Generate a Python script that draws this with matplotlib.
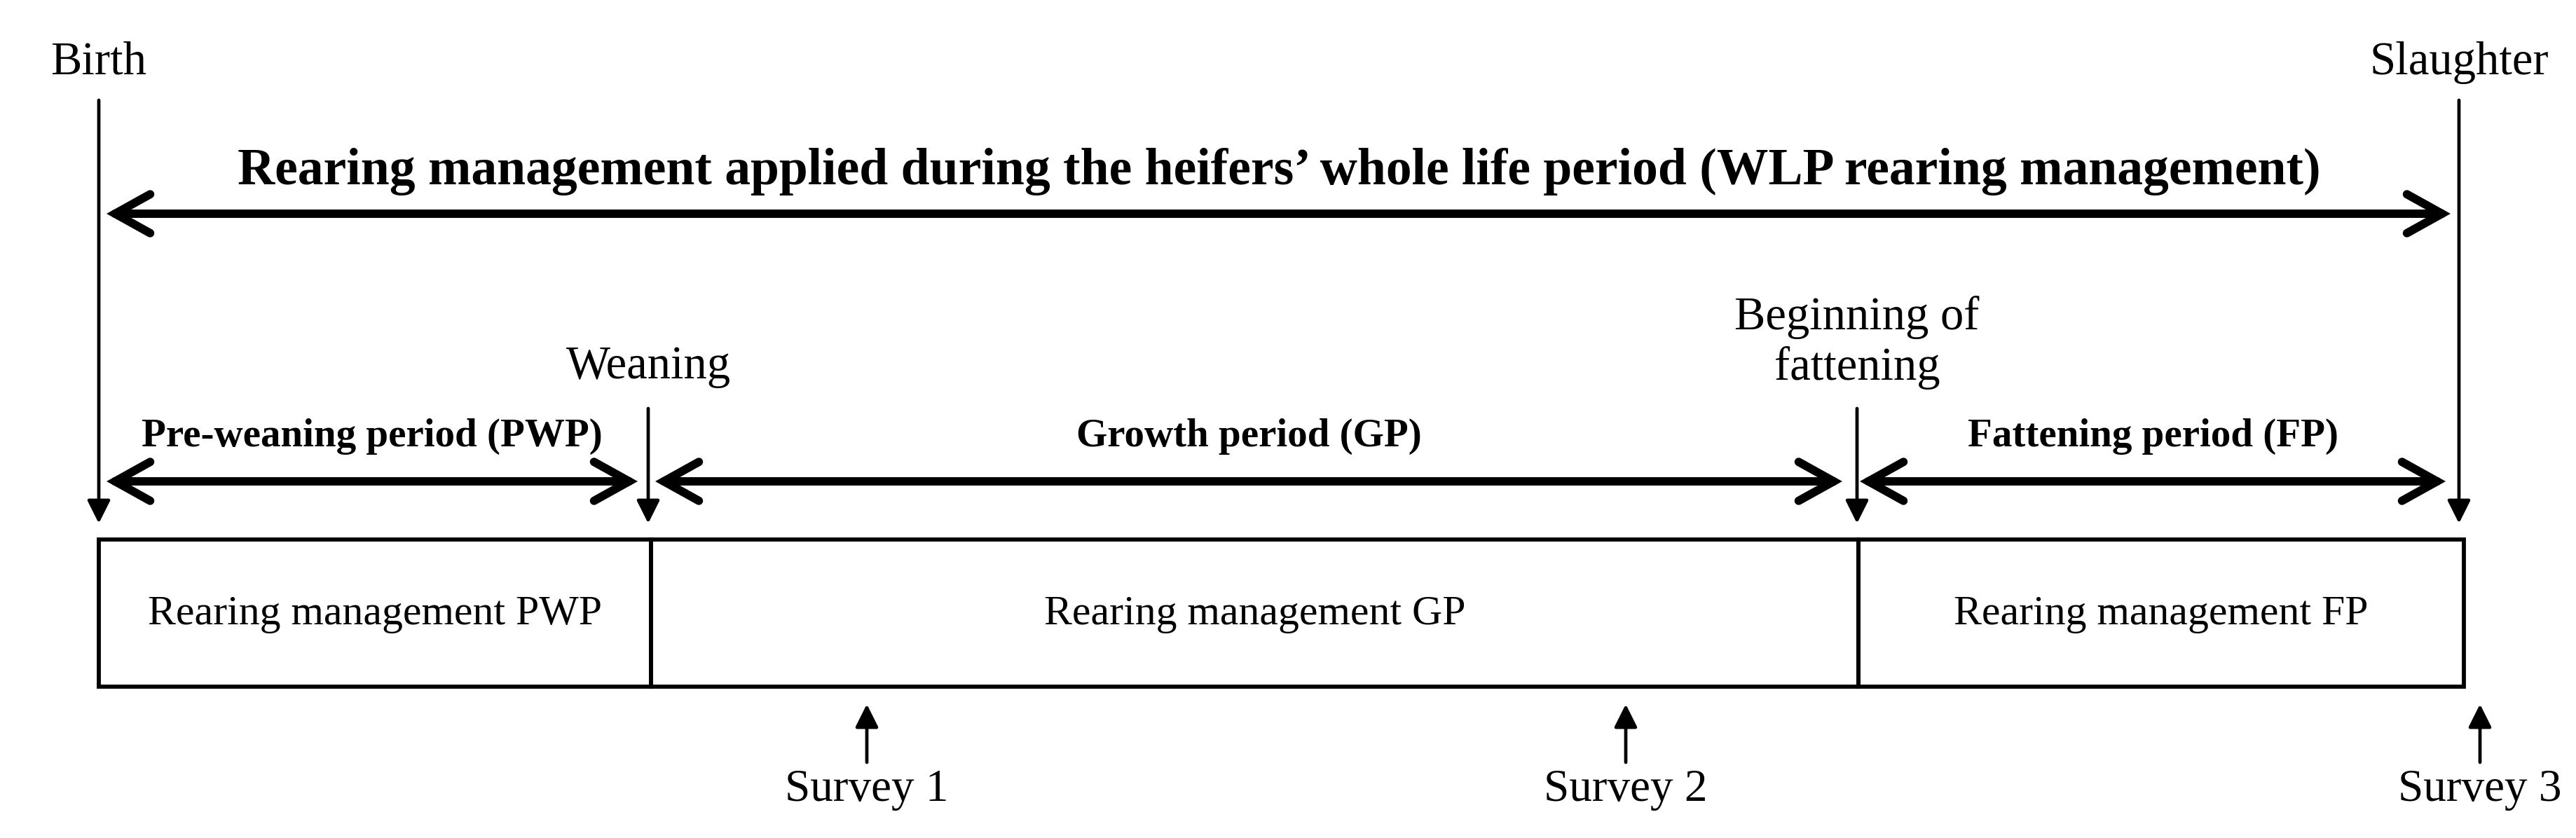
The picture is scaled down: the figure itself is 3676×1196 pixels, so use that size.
import matplotlib.pyplot as plt
from matplotlib.patches import FancyArrowPatch, Rectangle

plt.rcParams['font.family'] = ['Liberation Serif', 'DejaVu Serif']

# timeline events (x position along the diagram, label)
event_x = [141, 925, 2650, 3509]
event_labels = ['Birth', 'Weaning', 'Beginning of\nfattening', 'Slaughter']
event_top = [143, 583, 583, 143]

# periods between events
period_labels = ['Pre-weaning period (PWP)', 'Growth period (GP)', 'Fattening period (FP)']
period_start = [152, 935, 2654]
period_end = [910, 2629, 3490]
box_edges = [141, 929, 2652, 3516]
box_labels = ['Rearing management PWP', 'Rearing management GP', 'Rearing management FP']

# surveys
survey_x = [1237, 2320, 3539]
survey_labels = ['Survey 1', 'Survey 2', 'Survey 3']

title = 'Rearing management applied during the heifers\u2019 whole life period (WLP rearing management)'

fig = plt.figure(figsize=(36.76, 11.96), dpi=100)
ax = fig.add_axes([0, 0, 1, 1])
ax.set_xlim(0, 3676)
ax.set_ylim(1196, 0)
ax.axis('off')


def arrow(x0, y0, x1, y1, style, lw, **kw):
    a = FancyArrowPatch((x0, y0), (x1, y1), arrowstyle=style, lw=lw,
                        color='black', shrinkA=0, shrinkB=0, **kw)
    ax.add_patch(a)


# whole life arrow + title
arrow(152, 305, 3497, 305, '<->,head_length=36,head_width=20', 8.6,
      capstyle='round', joinstyle='miter')
ax.text((event_x[0] + event_x[-1]) / 2, 263, title, ha='center', va='baseline',
        fontsize=53, fontweight='bold')

# event lines with filled heads
for x, top, lab in zip(event_x, event_top, event_labels):
    arrow(x, top, x, 747, '-|>,head_length=20,head_width=10', 3.4)
    if '\n' in lab:
        l1, l2 = lab.split('\n')
        ax.text(x, 470, l1, ha='center', va='baseline', fontsize=48)
        ax.text(x, 542, l2, ha='center', va='baseline', fontsize=48)
    else:
        yb = 540 if top > 300 else 106
        ax.text(x, yb, lab, ha='center', va='baseline', fontsize=48)

# period arrows
for s, e, lab in zip(period_start, period_end, period_labels):
    arrow(s, 687, e, 687, '<->,head_length=36,head_width=20', 8.6,
          capstyle='round', joinstyle='miter')
    ax.text((s + e) / 2, 637, lab, ha='center', va='baseline',
            fontsize=41, fontweight='bold')

# management boxes
for i, lab in enumerate(box_labels):
    x0, x1 = box_edges[i], box_edges[i + 1]
    ax.add_patch(Rectangle((x0, 770), x1 - x0, 210, fill=False, lw=4.2,
                           edgecolor='black', joinstyle='miter'))
    ax.text((x0 + x1) / 2, 877, lab, ha='center', va='center', fontsize=43)

# surveys
for x, lab in zip(survey_x, survey_labels):
    arrow(x, 1088, x, 1005, '-|>,head_length=20,head_width=10', 3.4)
    ax.text(x, 1143, lab, ha='center', va='baseline', fontsize=47)

fig.savefig('out.png', dpi=100, facecolor='white')
